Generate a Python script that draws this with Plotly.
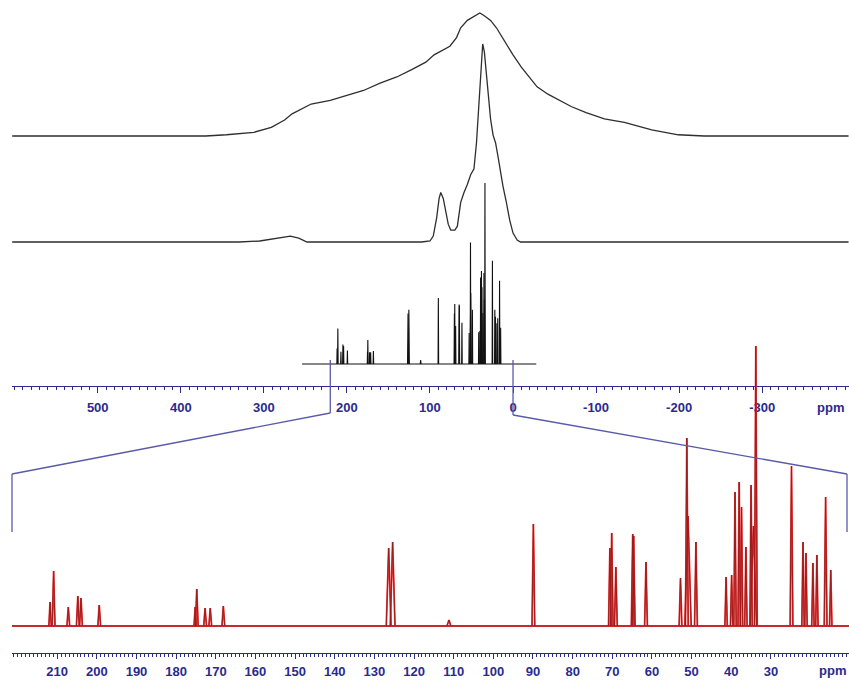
import plotly.graph_objects as go

W, H = 849, 684

# ---- static (non-spinning) powder spectrum: chemical shift (ppm), relative intensity
STATIC_PPM = [603, 370, 345, 330, 312, 291, 275, 266, 255, 243, 220, 200, 180, 160, 140, 122, 105, 95,
              76, 68, 63, 55, 50, 44, 40, 35, 27, 20, 11, 0, -10, -20, -29, -42, -56,
              -70, -88, -110, -134, -150, -167, -199, -230, -404]
STATIC_INT = [0, 0, 0.01, 0.02, 0.03, 0.07, 0.13, 0.18, 0.22, 0.26, 0.29, 0.33, 0.37, 0.43, 0.48, 0.54, 0.60, 0.66,
              0.73, 0.80, 0.88, 0.94, 0.96, 0.99, 1.0, 0.98, 0.94, 0.88, 0.78, 0.66, 0.56, 0.48, 0.40,
              0.34, 0.29, 0.24, 0.19, 0.14, 0.11, 0.08, 0.05, 0.01, 0, 0]

# ---- magic-angle-spinning spectrum
MAS_PPM = [603, 330, 305, 290, 278, 268, 258, 248, 110, 100, 96, 92, 89, 87, 84, 81, 78, 75, 70, 67,
           63, 59, 55, 51, 47, 44, 41, 38.5, 36.5, 34.5, 32, 29.5, 27, 24, 21, 18, 15.6, 12, 8,
           4, 0, -5, -9, -404]
MAS_INT = [0, 0, 0.005, 0.015, 0.025, 0.03, 0.02, 0, 0, 0.005, 0.03, 0.12, 0.22, 0.25, 0.22, 0.15, 0.09,
           0.06, 0.06, 0.08, 0.20, 0.25, 0.29, 0.34, 0.37, 0.50, 0.70, 0.90, 1.0, 0.96, 0.85, 0.72,
           0.62, 0.54, 0.50, 0.43, 0.36, 0.28, 0.20, 0.11, 0.045, 0.01, 0, 0]

# ---- solution spectrum: peak positions (ppm), heights (a.u.), half base width (ppm)
SOLUTION_SPAN = [254, -28]
PEAK_PPM = [211.8, 210.9, 207.2, 204.8, 204.0, 199.4, 175.2, 174.8, 172.7, 171.4, 168.1,
            126.4, 125.4, 111.2, 89.9, 70.6, 70.15, 69.1, 64.85, 64.6, 61.5, 52.8, 51.2, 50.9,
            48.9, 41.3, 39.9, 39.05, 38.0, 37.4, 36.3, 35.0, 34.4, 33.8, 24.8, 21.9, 21.15,
            19.4, 18.4, 16.2, 14.9]
PEAK_HEIGHT = [24, 55, 19, 30, 28, 21, 19, 37, 18, 18, 20,
               78, 84, 6, 102, 78, 93, 59, 92, 90, 64, 48, 188, 110,
               84, 49, 51, 134, 144, 119, 79, 141, 100, 280, 160, 84, 73,
               63, 71, 129, 56]
PEAK_HALF = [0.3, 0.35, 0.35, 0.35, 0.35, 0.35, 0.3, 0.35, 0.35, 0.35, 0.35,
             0.6, 0.6, 0.5, 0.35, 0.35, 0.35, 0.35, 0.35, 0.35, 0.35, 0.35, 0.35, 0.8,
             0.35, 0.3, 0.3, 0.3, 0.3, 0.3, 0.3, 0.3, 0.8, 0.35, 0.35, 0.3, 0.3,
             0.3, 0.3, 0.35, 0.3]

TOP_TICKS = [500, 400, 300, 200, 100, 0, -100, -200, -300]
TOP_LABELS = ["500", "400", "300", "200", "100", "0", "-100", "-200", "-300"]
ZOOM_TICKS = [210, 200, 190, 180, 170, 160, 150, 140, 130, 120, 110, 100, 90, 80, 70, 60, 50, 40, 30]
ZOOM_LABELS = [str(v) for v in ZOOM_TICKS]
ZOOM_WINDOW = [220, 0]   # region of the wide axis shown expanded below

# axis ranges (ppm)
TOP_RANGE = [603.2, -404.5]
LOW_RANGE = [221.4, 10.3]
X_DOMAIN = [12 / W, 1.0]

BLUE = "#2a2a8e"
LINK = "#5a5aa8"
FONT = dict(family="Liberation Sans, Arial, sans-serif", size=13, color=BLUE, weight="bold")


def py(px):
    """pixel row -> paper fraction"""
    return 1 - px / H


def yrange(base_px, scale_px):
    """y-axis range that puts 0 at base_px and 1 unit at scale_px pixels above it"""
    return [-(H - base_px) / scale_px, base_px / scale_px]


def top_paper_x(ppm):
    f = (TOP_RANGE[0] - ppm) / (TOP_RANGE[0] - TOP_RANGE[1])
    return X_DOMAIN[0] + f * (X_DOMAIN[1] - X_DOMAIN[0])


def spikes():
    xs, ys = list(SOLUTION_SPAN) + [None], [0, 0, None]
    for p, h, w in zip(PEAK_PPM, PEAK_HEIGHT, PEAK_HALF):
        xs += [p + w, p, p - w, None]
        ys += [0, h, 0, None]
    return xs, ys


sx, sy = spikes()

fig = go.Figure()
fig.add_trace(go.Scatter(x=STATIC_PPM, y=STATIC_INT, mode="lines", xaxis="x", yaxis="y",
                         line=dict(color="#2e2e2e", width=1.3), hoverinfo="skip"))
fig.add_trace(go.Scatter(x=MAS_PPM, y=MAS_INT, mode="lines", xaxis="x", yaxis="y2",
                         line=dict(color="#2e2e2e", width=1.3), hoverinfo="skip"))
fig.add_trace(go.Scatter(x=sx, y=sy, mode="lines", xaxis="x", yaxis="y3",
                         line=dict(color="#111111", width=1.1), connectgaps=False, hoverinfo="skip"))
fig.add_trace(go.Scatter(x=sx, y=sy, mode="lines", xaxis="x2", yaxis="y4",
                         line=dict(color="#ec3a3a", width=1.8), connectgaps=False, hoverinfo="skip"))
fig.add_trace(go.Scatter(x=sx, y=sy, mode="lines", xaxis="x2", yaxis="y4",
                         line=dict(color="#a01a1a", width=1.0), connectgaps=False, hoverinfo="skip"))

common_x = dict(showgrid=False, zeroline=False, showline=True, linecolor=BLUE, linewidth=1.2,
                ticks="outside", tickcolor=BLUE, tickwidth=1, tickfont=FONT,
                anchor="free", side="bottom", layer="below traces", fixedrange=True)

fig.update_layout(
    width=W, height=H, margin=dict(l=0, r=0, t=0, b=0),
    paper_bgcolor="white", plot_bgcolor="rgba(0,0,0,0)", showlegend=False,
    xaxis=dict(common_x, domain=X_DOMAIN, range=TOP_RANGE, position=py(386),
               tickmode="array", tickvals=TOP_TICKS, ticktext=TOP_LABELS, ticklen=6,
               ticklabelstandoff=3,
               minor=dict(tickmode="linear", tick0=0, dtick=10, ticklen=3, ticks="outside",
                          tickcolor=BLUE)),
    xaxis2=dict(common_x, domain=X_DOMAIN, range=LOW_RANGE, position=py(653), overlaying="x",
                tickmode="array", tickvals=ZOOM_TICKS, ticktext=ZOOM_LABELS, ticklen=5,
                ticklabelstandoff=1,
                minor=dict(tickmode="linear", tick0=0, dtick=1, ticklen=3, ticks="outside",
                           tickcolor=BLUE)),
    yaxis=dict(domain=[0, 1], range=yrange(136, 123), visible=False, fixedrange=True),
    yaxis2=dict(domain=[0, 1], range=yrange(242, 198), visible=False, overlaying="y", fixedrange=True),
    yaxis3=dict(domain=[0, 1], range=yrange(364, 0.646), visible=False, overlaying="y", fixedrange=True),
    yaxis4=dict(domain=[0, 1], range=yrange(626, 1.0), visible=False, overlaying="y", fixedrange=True),
)

# expansion guides linking the window on the wide axis to the expanded axis
xl, xr = top_paper_x(ZOOM_WINDOW[0]), top_paper_x(ZOOM_WINDOW[1])
x_left, x_right = 12 / W, 847 / W
guides = [
    (xl, py(360), xl, py(413)),
    (xr, py(360), xr, py(415)),
    (xl, py(413), x_left, py(474)),
    (xr, py(415), x_right, py(474)),
    (x_left, py(474), x_left, py(532)),
    (x_right, py(474), x_right, py(532)),
]
for x0, y0, x1, y1 in guides:
    fig.add_shape(type="line", xref="paper", yref="paper", x0=x0, y0=y0, x1=x1, y1=y1,
                  line=dict(color=LINK, width=1.3))

fig.add_annotation(text="ppm", xref="paper", yref="paper", x=830 / W, y=py(407),
                   showarrow=False, font=FONT, xanchor="center", yanchor="middle")
fig.add_annotation(text="ppm", xref="paper", yref="paper", x=832 / W, y=py(670),
                   showarrow=False, font=FONT, xanchor="center", yanchor="middle")

fig.write_html("out.html")
